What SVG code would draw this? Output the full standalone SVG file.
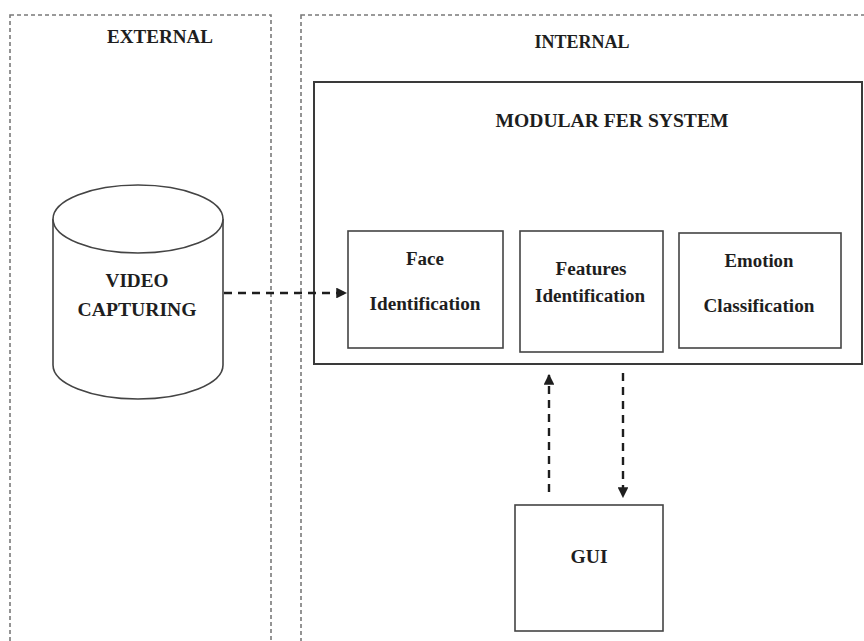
<svg xmlns="http://www.w3.org/2000/svg" width="864" height="641" viewBox="0 0 864 641">
  <style>
    .zone { fill: none; stroke: #7a7a7a; stroke-width: 1.6; stroke-dasharray: 4 3; }
    .box { fill: #ffffff; stroke: #444444; stroke-width: 1.6; }
    .frame { fill: #ffffff; stroke: #3a3a3a; stroke-width: 2; }
    .lbl { font-family: "Liberation Serif", "Times New Roman", serif; font-weight: bold; fill: #1e1e1e; text-anchor: middle; }
    .title { font-size: 19px; }
    .node { font-size: 18.5px; }
    .link { fill: none; stroke: #1e1e1e; stroke-width: 2.4; stroke-dasharray: 8 6; }
  </style>
  <defs>
    <marker id="arrow" viewBox="0 0 10 10" refX="9" refY="5" markerWidth="4.5" markerHeight="4.5" orient="auto" markerUnits="strokeWidth">
      <path d="M0,0 L10,5 L0,10 z" fill="#1e1e1e"/>
    </marker>
  </defs>

  <rect width="864" height="641" fill="#ffffff"/>

  <!-- Zones -->
  <g id="external">
    <rect class="zone" x="10" y="15" width="261" height="640"/>
    <text class="lbl title" x="160" y="43" textLength="106" lengthAdjust="spacingAndGlyphs">EXTERNAL</text>
  </g>
  <g id="internal">
    <rect class="zone" x="301" y="15" width="580" height="640"/>
    <text class="lbl title" x="582" y="48" textLength="95" lengthAdjust="spacingAndGlyphs">INTERNAL</text>
  </g>

  <!-- Modular FER system container -->
  <g id="fer-system">
    <rect class="frame" x="314" y="82" width="548" height="282"/>
    <text class="lbl title" x="612" y="127" textLength="233" lengthAdjust="spacingAndGlyphs">MODULAR FER SYSTEM</text>
  </g>

  <!-- Video capturing store -->
  <g id="video-capturing">
    <path class="box" d="M53,219 L53,365 A85,34 0 0 0 223,365 L223,219"/>
    <ellipse class="box" cx="138" cy="219" rx="85" ry="34"/>
    <text class="lbl node" x="137" y="287" textLength="63" lengthAdjust="spacingAndGlyphs">VIDEO</text>
    <text class="lbl node" x="137" y="316" textLength="119" lengthAdjust="spacingAndGlyphs">CAPTURING</text>
  </g>

  <!-- Modules -->
  <g id="face-identification">
    <rect class="box" x="348" y="231" width="155" height="117"/>
    <text class="lbl node" x="425" y="265" textLength="38" lengthAdjust="spacingAndGlyphs">Face</text>
    <text class="lbl node" x="425" y="310" textLength="111" lengthAdjust="spacingAndGlyphs">Identification</text>
  </g>
  <g id="features-identification">
    <rect class="box" x="520" y="231" width="143" height="121"/>
    <text class="lbl node" x="591" y="275" textLength="71" lengthAdjust="spacingAndGlyphs">Features</text>
    <text class="lbl node" x="590" y="302" textLength="110" lengthAdjust="spacingAndGlyphs">Identification</text>
  </g>
  <g id="emotion-classification">
    <rect class="box" x="679" y="233" width="162" height="115"/>
    <text class="lbl node" x="759" y="267" textLength="69" lengthAdjust="spacingAndGlyphs">Emotion</text>
    <text class="lbl node" x="759" y="312" textLength="111" lengthAdjust="spacingAndGlyphs">Classification</text>
  </g>

  <g id="gui">
    <rect class="box" x="515" y="505" width="148" height="126"/>
    <text class="lbl node" x="589" y="563" textLength="37" lengthAdjust="spacingAndGlyphs">GUI</text>
  </g>

  <!-- Connectors -->
  <g id="connectors">
    <line class="link" x1="224" y1="293" x2="346" y2="293" marker-end="url(#arrow)"/>
    <line class="link" x1="549" y1="492" x2="549" y2="375" marker-end="url(#arrow)"/>
    <line class="link" x1="623" y1="373" x2="623" y2="497" marker-end="url(#arrow)"/>
  </g>
</svg>
